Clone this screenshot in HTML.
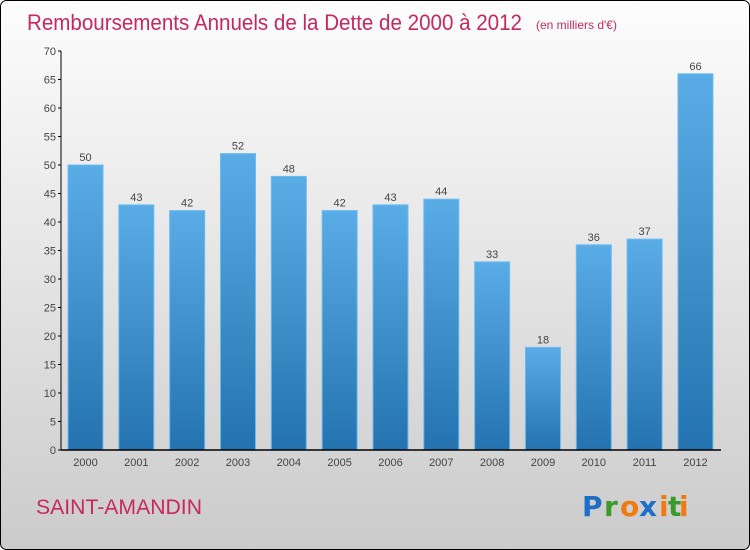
<!DOCTYPE html>
<html><head><meta charset="utf-8">
<style>
html,body{margin:0;padding:0;width:750px;height:550px;overflow:hidden;font-family:"Liberation Sans",sans-serif;}
</style></head>
<body>
<svg id="chart" width="750" height="550" xmlns="http://www.w3.org/2000/svg">
<defs>
<linearGradient id="bg" x1="0" y1="0" x2="0" y2="1">
<stop offset="0" stop-color="#fdfdfd"/><stop offset="1" stop-color="#cbcbcb"/>
</linearGradient>
<linearGradient id="bar" x1="0" y1="0" x2="0" y2="1">
<stop offset="0" stop-color="#5aace6"/><stop offset="1" stop-color="#2473b0"/>
</linearGradient>
</defs>
<rect x="0.5" y="0.5" width="749" height="549" rx="6" fill="url(#bg)" stroke="#000"/>
<text x="27" y="30" font-size="22" fill="#c8285f" textLength="495" lengthAdjust="spacingAndGlyphs">Remboursements Annuels de la Dette de 2000 à 2012</text>
<text x="536" y="29" font-size="12" fill="#c8285f">(en milliers d'€)</text>
<g id="yaxis"></g>
<g id="bars"></g>
<g id="xaxis"></g>
<text x="36" y="514" font-size="21" fill="#c8285f" textLength="166" lengthAdjust="spacingAndGlyphs">SAINT-AMANDIN</text>
<g font-size="28" font-weight="bold" font-family="'DejaVu Sans',sans-serif">
<text x="582" y="516" fill="#1e6fc8">P</text><text x="604" y="516" fill="#3a9a2a">r</text><text x="620" y="516" fill="#f07a10">o</text><text x="639" y="516" fill="#1e6fc8">x</text><text x="659" y="516" fill="#f07a10">i</text><text x="668" y="516" fill="#3a9a2a">t</text><text x="679" y="516" fill="#f07a10">i</text>
</g>
</svg>
<script>
const categories=["2000","2001","2002","2003","2004","2005","2006","2007","2008","2009","2010","2011","2012"];
const values=[50,43,42,52,48,42,43,44,33,18,36,37,66];
const yTicks=[0,5,10,15,20,25,30,35,40,45,50,55,60,65,70];
const NS="http://www.w3.org/2000/svg";
const y0=450,yTop=51,yMax=70;
function yScale(v){return y0-(v/yMax)*(y0-yTop);}
const step=50.83,x0=68,bw=35;
function xScale(i){return x0+i*step;}
function mk(tag,attrs,parent,txt){const e=document.createElementNS(NS,tag);for(const k in attrs)e.setAttribute(k,attrs[k]);if(txt!==undefined)e.textContent=txt;parent.appendChild(e);return e;}
const ya=document.getElementById('yaxis'),ba=document.getElementById('bars'),xa=document.getElementById('xaxis');
let l=mk('line',{x1:61,y1:yTop,x2:61,y2:y0,stroke:'#000','stroke-width':1},ya);


yTicks.forEach(t=>{
 const y=yScale(t);
 let tk=mk('line',{x1:58,y1:y,x2:61,y2:y,stroke:'#000'},ya);
 
 
 let tx=mk('text',{x:56,y:y+4,'font-size':11,'text-anchor':'end',fill:'#444'},ya,String(t));
 
 
});
values.forEach((v,i)=>{
 const x=xScale(i),y=yScale(v);
 let r=mk('rect',{x:x,y:y,width:bw,height:y0-y,fill:'url(#bar)',stroke:'#6bbcf0','stroke-width':1},ba);
 
 
 let t=mk('text',{x:x+bw/2,y:y-4,'font-size':11,'text-anchor':'middle',fill:'#444'},ba,String(v));
 
 
 let c=mk('text',{x:x+bw/2,y:466,'font-size':11,'text-anchor':'middle',fill:'#444'},xa,categories[i]);
 
 
});
let xl=mk('line',{x1:61,y1:y0,x2:721,y2:y0,stroke:'#000','stroke-width':1.5},xa);


</script>
</body></html>
